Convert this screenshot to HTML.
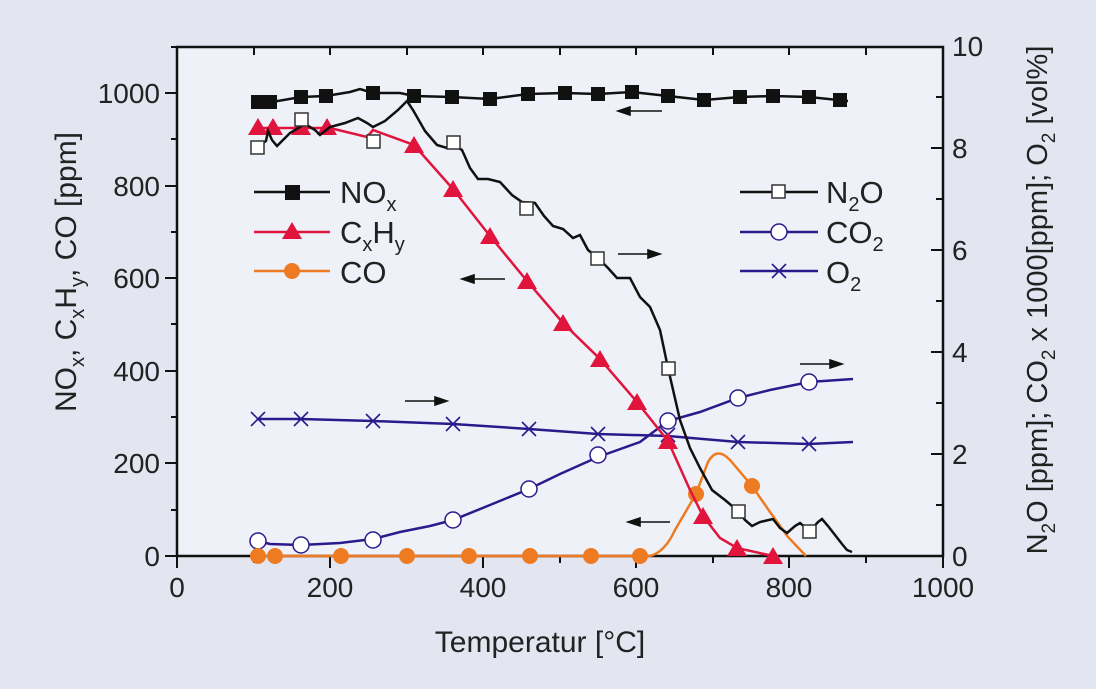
<!DOCTYPE html>
<html><head><meta charset="utf-8"><style>
html,body{margin:0;padding:0;background:#e3e5f0;}
svg{display:block;font-family:"Liberation Sans",Arial,sans-serif;}
</style></head><body>
<svg width="1096" height="689" viewBox="0 0 1096 689" xmlns="http://www.w3.org/2000/svg">
<rect width="1096" height="689" fill="#e3e5f0"/>
<rect x="177" y="47" width="766" height="509" fill="#eff1f8"/>
<g stroke="#111" stroke-width="2.5" fill="none">
<path d="M177,47 H943 V556 H177 Z"/>
</g>
<g stroke="#111" stroke-width="2">
<path d="M165,556H177M165,463H177M165,371H177M165,278H177M165,186H177M165,93H177"/>
<path d="M171,510H177M171,417H177M171,324H177M171,232H177M171,139H177M171,47H177"/>
<path d="M177,556V568M330,556V568M483,556V568M636,556V568M789,556V568M943,556V568"/>
<path d="M254,556V563M407,556V563M560,556V563M713,556V563M866,556V563"/>
<path d="M254,47V55M330,47V55M407,47V55M483,47V55M560,47V55M636,47V55M713,47V55M789,47V55M866,47V55"/>
<path d="M931,454H943M931,352H943M931,250H943M931,148H943"/>
<path d="M936,505H943M936,403H943M936,301H943M936,199H943M936,97H943"/>
</g>
<g font-size="28" fill="#222" text-anchor="end">
<text x="160" y="566">0</text><text x="160" y="473">200</text><text x="160" y="381">400</text><text x="160" y="288">600</text><text x="160" y="196">800</text><text x="160" y="103">1000</text>
</g>
<g font-size="28" fill="#222" text-anchor="middle">
<text x="177" y="597">0</text><text x="330" y="597">200</text><text x="483" y="597">400</text><text x="636" y="597">600</text><text x="789" y="597">800</text><text x="943" y="597">1000</text>
</g>
<g font-size="28" fill="#222" text-anchor="start">
<text x="952" y="566">0</text><text x="952" y="464">2</text><text x="952" y="362">4</text><text x="952" y="260">6</text><text x="952" y="158">8</text><text x="952" y="56">10</text>
</g>
<text x="540" y="652" font-size="30" fill="#222" text-anchor="middle">Temperatur [°C]</text>
<text transform="translate(76,272) rotate(-90)" font-size="30" fill="#222" text-anchor="middle">NO<tspan font-size="20" dy="8">x</tspan><tspan dy="-8">, C</tspan><tspan font-size="20" dy="8">x</tspan><tspan dy="-8">H</tspan><tspan font-size="20" dy="8">y</tspan><tspan dy="-8">, CO [ppm]</tspan></text>
<text transform="translate(1047,300) rotate(-90)" font-size="29" fill="#222" text-anchor="middle">N<tspan font-size="19" dy="8">2</tspan><tspan dy="-8">O [ppm]; CO</tspan><tspan font-size="19" dy="8">2</tspan><tspan dy="-8"> x 1000[ppm]; O</tspan><tspan font-size="19" dy="8">2</tspan><tspan dy="-8"> [vol%]</tspan></text>

<path d="M258,419 L301,419 L373,421 L453,424 L529,429 L598,434 L668,436 L738,442 L809,444 L853,442" fill="none" stroke="#2c1a8c" stroke-width="2.5"/>
<g stroke="#2c1a8c" stroke-width="1.6">
<path d="M251,412l14,14m0,-14l-14,14M294,412l14,14m0,-14l-14,14M366,414l14,14m0,-14l-14,14M446,417l14,14m0,-14l-14,14M522,422l14,14m0,-14l-14,14M591,427l14,14m0,-14l-14,14M661,428l14,14m0,-14l-14,14M731,435l14,14m0,-14l-14,14M802,437l14,14m0,-14l-14,14"/>
</g>
<path d="M258,541 L270,544 L301,545 L340,543 L373,539 L400,532 L430,526 L453,520 L490,505 L529,489 L560,474 L598,457 L640,442 L668,421 L700,412 L738,398 L770,390 L809,382 L853,379" fill="none" stroke="#2c1a8c" stroke-width="2.5"/>
<g fill="#fff" stroke="#2c1a8c" stroke-width="1.5">
<circle cx="258" cy="541" r="8"/><circle cx="301" cy="545" r="8"/><circle cx="373" cy="540" r="8"/><circle cx="453" cy="520" r="8"/><circle cx="529" cy="489" r="8"/><circle cx="598" cy="455" r="8"/><circle cx="668" cy="421" r="8"/><circle cx="738" cy="398" r="8"/><circle cx="809" cy="382" r="8"/>
</g>
<path d="M258,556 L650,556 Q665,552 675,530 L696,494 L708,462 Q717,446 730,460 L752,486 L770,512 L788,537 L806,556" fill="none" stroke="#ee7b22" stroke-width="2.5"/>
<g fill="#ee7b22">
<circle cx="258" cy="556" r="8"/><circle cx="275" cy="556" r="8"/><circle cx="341" cy="556" r="8"/><circle cx="407" cy="556" r="8"/><circle cx="469" cy="556" r="8"/><circle cx="530" cy="556" r="8"/><circle cx="591" cy="556" r="8"/><circle cx="640" cy="556" r="8"/><circle cx="696" cy="494" r="8"/><circle cx="752" cy="486" r="8"/>
</g>
<path d="M258,128 L330,128 L367,137 L373,130 L414,145 L453,189 L490,236 L527,281 L563,323 L600,359 L637,402 L668,441 L690,490 L703,516 L720,538 L737,548 L773,556" fill="none" stroke="#e0143c" stroke-width="2.5"/>
<g fill="#e0143c">
<path d="M258,118l10,17h-20zM273,118l10,17h-20zM301,118l10,17h-20zM327,118l10,17h-20zM414,136l10,17h-20zM453,180l10,17h-20zM490,227l10,17h-20zM527,272l10,17h-20zM563,314l10,17h-20zM600,350l10,17h-20zM637,393l10,17h-20zM668,432l10,17h-20zM703,507l10,17h-20zM737,539l10,17h-20zM773,547l10,17h-20z"/>
</g>
<path d="M257,147 L266,141 L268,131 L272,140 L277,146 L290,133 L305,124 L315,130 L320,135 L330,127 L345,123 L358,118 L367,123 L373,127 L385,121 L398,110 L407,101 L413,110 L425,131 L437,145 L447,148 L455,146 L462,150 L470,168 L478,179 L488,179 L500,182 L512,195 L522,202 L535,203 L544,216 L553,226 L563,229 L573,238 L580,235 L588,250 L598,258 L608,268 L617,278 L630,278 L640,297 L650,307 L660,330 L668,368 L680,420 L690,448 L700,468 L712,490 L725,500 L738,511 L745,520 L752,526 L760,522 L773,519 L780,528 L787,533 L795,526 L800,523 L810,531 L818,522 L822,519 L828,526 L835,535 L842,544 L847,550 L852,552" fill="none" stroke="#111" stroke-width="2.5"/>
<g fill="#fff" stroke="#333" stroke-width="1.5">
<rect x="251" y="141" width="13" height="13"/><rect x="295" y="113" width="13" height="13"/><rect x="367" y="135" width="13" height="13"/><rect x="447" y="136" width="13" height="13"/><rect x="520" y="202" width="13" height="13"/><rect x="591" y="252" width="13" height="13"/><rect x="662" y="362" width="13" height="13"/><rect x="732" y="505" width="13" height="13"/><rect x="803" y="525" width="13" height="13"/>
</g>
<path d="M258,102 L272,102 L301,97 L326,96 L350,92 L360,89 L373,93 L400,93 L414,96 L452,97 L490,99 L528,94 L565,93 L598,94 L632,92 L668,96 L704,100 L740,97 L773,96 L809,97 L848,101" fill="none" stroke="#111" stroke-width="2.5"/>
<g fill="#111">
<rect x="251" y="95" width="14" height="14"/><rect x="263" y="95" width="14" height="14"/><rect x="294" y="90" width="14" height="14"/><rect x="319" y="89" width="14" height="14"/><rect x="366" y="86" width="14" height="14"/><rect x="407" y="89" width="14" height="14"/><rect x="445" y="90" width="14" height="14"/><rect x="483" y="92" width="14" height="14"/><rect x="521" y="87" width="14" height="14"/><rect x="558" y="86" width="14" height="14"/><rect x="591" y="87" width="14" height="14"/><rect x="625" y="85" width="14" height="14"/><rect x="661" y="89" width="14" height="14"/><rect x="697" y="93" width="14" height="14"/><rect x="733" y="90" width="14" height="14"/><rect x="766" y="89" width="14" height="14"/><rect x="802" y="90" width="14" height="14"/><rect x="833" y="93" width="14" height="14"/>
</g>
<g stroke="#111" stroke-width="1.6" fill="#111">
<path d="M628,111H662" /><path d="M618,111l12,-4v8z"/>
<path d="M618,254H650"/><path d="M660,254l-12,-4v8z"/>
<path d="M472,279H505"/><path d="M462,279l12,-4v8z"/>
<path d="M405,401H437"/><path d="M447,401l-12,-4v8z"/>
<path d="M638,522H670"/><path d="M628,522l12,-4v8z"/>
<path d="M800,364H832"/><path d="M842,364l-12,-4v8z"/>
</g>
<g stroke-width="2.5">
<path d="M254,192H330" stroke="#111"/><rect x="285" y="185" width="15" height="15" fill="#111"/>
<path d="M254,232H330" stroke="#e0143c"/><path d="M292,222l10,17h-20z" fill="#e0143c"/>
<path d="M254,271H330" stroke="#ee7b22"/><circle cx="292" cy="271" r="8" fill="#ee7b22"/>
<path d="M740,192H818" stroke="#111"/><rect x="772" y="185" width="13" height="13" fill="#fff" stroke="#333" stroke-width="1.5"/>
<path d="M740,232H818" stroke="#2c1a8c"/><circle cx="779" cy="232" r="8" fill="#fff" stroke="#2c1a8c" stroke-width="1.5"/>
<path d="M740,271H818" stroke="#2c1a8c"/><path d="M772,264l14,14m0,-14l-14,14" stroke="#2c1a8c" stroke-width="1.6"/>
</g>
<g font-size="31" fill="#222">
<text x="340" y="203">NO<tspan font-size="20" dy="8">x</tspan></text>
<text x="340" y="243">C<tspan font-size="20" dy="8">x</tspan><tspan dy="-8">H</tspan><tspan font-size="20" dy="8">y</tspan></text>
<text x="340" y="283">CO</text>
<text x="826" y="203">N<tspan font-size="20" dy="8">2</tspan><tspan dy="-8">O</tspan></text>
<text x="826" y="243">CO<tspan font-size="20" dy="8">2</tspan></text>
<text x="826" y="283">O<tspan font-size="20" dy="8">2</tspan></text>
</g>
</svg>
</body></html>
